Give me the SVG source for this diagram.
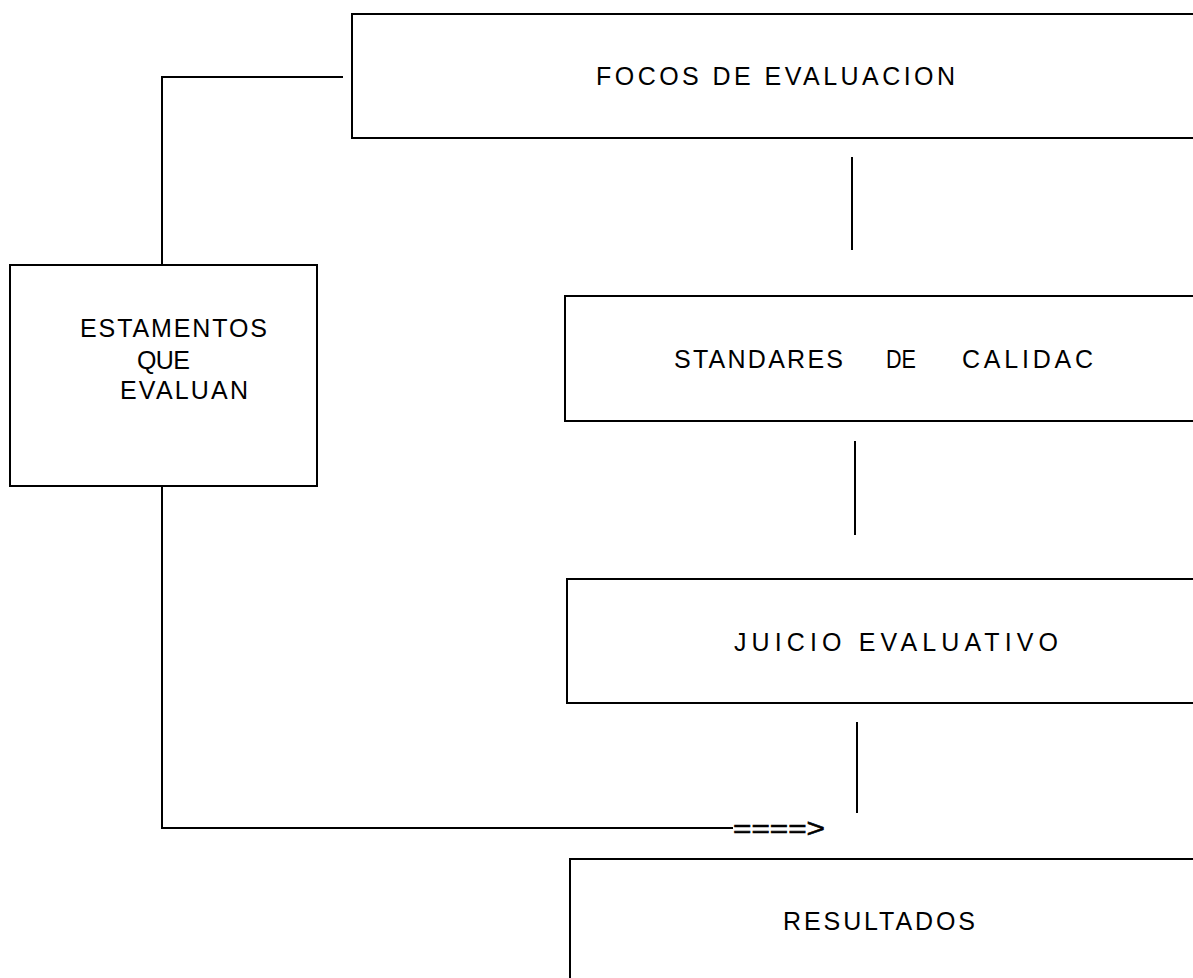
<svg xmlns="http://www.w3.org/2000/svg" width="1193" height="978" viewBox="0 0 1193 978">
  <style>
    .box { fill: #ffffff; stroke: #000000; stroke-width: 2; }
    .wire { fill: none; stroke: #000000; stroke-width: 2; }
    .lbl { font-family: "Liberation Sans", Arial, sans-serif; font-size: 25px; fill: #000000; }
  </style>
  <rect width="1193" height="978" fill="#ffffff"/>

  <!-- connectors -->
  <g id="connectors">
    <polyline class="wire" points="343,77 162,77 162,265"/>
    <polyline class="wire" points="162,486 162,828 733,828"/>
    <line class="wire" x1="852" y1="157" x2="852" y2="250"/>
    <line class="wire" x1="855" y1="441" x2="855" y2="535"/>
    <line class="wire" x1="857" y1="722" x2="857" y2="813"/>
    <text class="lbl" x="733" y="837" font-size="24" textLength="92" lengthAdjust="spacingAndGlyphs" stroke="#000" stroke-width="0.6">====&gt;</text>
  </g>

  <!-- nodes -->
  <g id="focos">
    <rect class="box" x="352" y="14" width="900" height="124"/>
    <text class="lbl" x="596" y="85" textLength="359" lengthAdjust="spacing">FOCOS DE EVALUACION</text>
  </g>

  <g id="estamentos">
    <rect class="box" x="10" y="265" width="307" height="221"/>
    <text class="lbl" font-size="23" x="80" y="337" textLength="187" lengthAdjust="spacing">ESTAMENTOS</text>
    <text class="lbl" font-size="23" x="137" y="369" textLength="53" lengthAdjust="spacing">QUE</text>
    <text class="lbl" font-size="23" x="120" y="399" textLength="128" lengthAdjust="spacing">EVALUAN</text>
  </g>

  <g id="standares">
    <rect class="box" x="565" y="296" width="700" height="125"/>
    <text class="lbl" x="674" y="368" textLength="169" lengthAdjust="spacing">STANDARES</text>
    <text class="lbl" x="886" y="368" textLength="30" lengthAdjust="spacingAndGlyphs">DE</text>
    <text class="lbl" x="962" y="368" textLength="131" lengthAdjust="spacing">CALIDAC</text>
  </g>

  <g id="juicio">
    <rect class="box" x="567" y="579" width="700" height="124"/>
    <text class="lbl" x="734" y="651" textLength="324" lengthAdjust="spacing">JUICIO EVALUATIVO</text>
  </g>

  <g id="resultados">
    <rect class="box" x="570" y="859" width="700" height="200"/>
    <text class="lbl" x="783" y="930" textLength="192" lengthAdjust="spacing">RESULTADOS</text>
  </g>
</svg>
